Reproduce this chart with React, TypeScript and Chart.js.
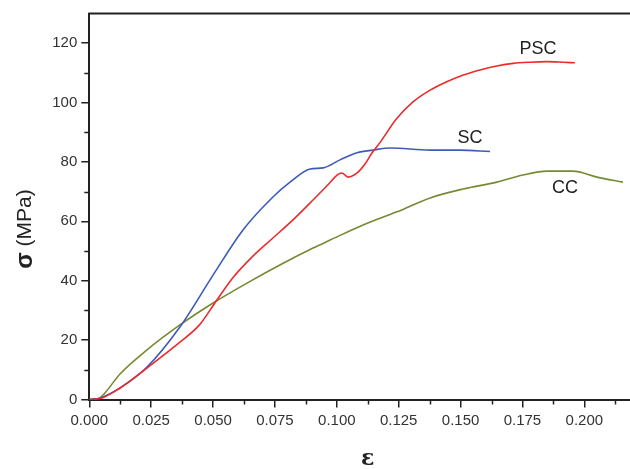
import React, { useEffect, useRef } from "react";
import { Chart, registerables } from "chart.js";

Chart.register(...registerables);

// SC (blue)
const scStrain = [0, 0.0043, 0.0124, 0.0233, 0.0366, 0.050, 0.0621, 0.0742, 0.0811, 0.0892, 0.0945, 0.1013, 0.1082, 0.1146, 0.1215, 0.1377, 0.1498, 0.1619];
const scStress = [0, 0.5, 3.9, 10.9, 24.4, 41.9, 57.1, 68.2, 73.2, 77.6, 78.0, 80.7, 83.1, 84.0, 84.7, 84.0, 84.0, 83.5];

// PSC (red)
const pscStrain = [0, 0.0043, 0.0124, 0.0233, 0.0366, 0.0447, 0.0508, 0.058, 0.0661, 0.0742, 0.0823, 0.0904, 0.0972, 0.1001, 0.1021, 0.1045, 0.1082, 0.1114, 0.1142, 0.1175, 0.1242, 0.1309, 0.1377, 0.1444, 0.1511, 0.1579, 0.1646, 0.1713, 0.1781, 0.1848, 0.1915, 0.1962];
const pscStress = [0, 0.3, 3.8, 10.6, 19.3, 25.3, 32.6, 41.0, 48.3, 54.4, 60.5, 67.2, 73.0, 75.6, 76.3, 74.9, 76.3, 79.3, 83.0, 86.6, 94.6, 100.3, 104.2, 107.0, 109.3, 111.0, 112.3, 113.2, 113.6, 113.8, 113.6, 113.4];

// CC (green)
const ccStrain = [0, 0.0035, 0.006, 0.0124, 0.0233, 0.0366, 0.050, 0.0637, 0.077, 0.0904, 0.0973, 0.1106, 0.1243, 0.1377, 0.151, 0.1647, 0.1752, 0.1849, 0.1954, 0.2051, 0.2156];
const ccStress = [0, 0.2, 1.9, 8.6, 16.7, 25.1, 32.5, 39.2, 45.3, 51.0, 53.7, 58.8, 63.2, 67.9, 70.9, 73.2, 75.6, 76.9, 76.9, 74.9, 73.2];

// curve labels (placed in data space)
const curveNames = ["PSC", "SC", "CC"];
const labelStrain = [0.1813, 0.1538, 0.1922];
const labelStress = [118.1, 88.1, 71.2];

const xTitle = "ε";
const yTitleSymbol = "σ";
const yTitleUnit = " (MPa)";

const SANS = "Arial, 'Liberation Sans', sans-serif";

function toPoints(xs: number[], ys: number[]) {
  return xs.map((x, i) => ({ x, y: ys[i] }));
}

const framePlugin = {
  id: "frameAndText",
  afterDraw(chart: any) {
    const { ctx, chartArea: a, scales } = chart;
    const xs = scales.x;
    const ys = scales.y;
    ctx.save();
    ctx.strokeStyle = "#222";
    ctx.lineWidth = 2;
    ctx.beginPath();
    ctx.moveTo(a.left - 1, a.top);
    ctx.lineTo(a.right, a.top);
    ctx.lineTo(a.right, a.bottom);
    ctx.stroke();

    // minor ticks
    ctx.lineWidth = 1.5;
    ctx.beginPath();
    for (let v = 0.0125; v < xs.max; v += 0.025) {
      const px = Math.round(xs.getPixelForValue(v)) + 0.5;
      ctx.moveTo(px, a.bottom);
      ctx.lineTo(px, a.bottom + 5);
    }
    for (let v = 10; v < ys.max; v += 20) {
      const py = Math.round(ys.getPixelForValue(v)) + 0.5;
      ctx.moveTo(a.left, py);
      ctx.lineTo(a.left - 5, py);
    }
    ctx.stroke();

    // curve labels
    ctx.fillStyle = "#222";
    ctx.font = `18px ${SANS}`;
    ctx.textAlign = "center";
    ctx.textBaseline = "middle";
    curveNames.forEach((n, i) => {
      ctx.fillText(n, xs.getPixelForValue(labelStrain[i]), ys.getPixelForValue(labelStress[i]));
    });

    // x title
    ctx.font = `bold 22px 'DejaVu Serif', 'Liberation Serif', serif`;
    ctx.fillText(xTitle, (a.left + a.right) / 2, 459);

    // y title
    ctx.translate(25, 229);
    ctx.rotate(-Math.PI / 2);
    const symFont = `bold 24px ${SANS}`;
    const unitFont = `21px ${SANS}`;
    ctx.font = symFont;
    const w1 = ctx.measureText(yTitleSymbol).width;
    ctx.font = unitFont;
    const w2 = ctx.measureText(yTitleUnit).width;
    const start = -(w1 + w2) / 2;
    ctx.textAlign = "left";
    ctx.font = symFont;
    ctx.fillText(yTitleSymbol, start, 0);
    ctx.font = unitFont;
    ctx.fillText(yTitleUnit, start + w1, 0);
    ctx.restore();
  },
};

export default function App() {
  const ref = useRef<HTMLCanvasElement | null>(null);

  useEffect(() => {
    if (!ref.current) return;
    const tickFont = { family: SANS, size: 15 };
    const line = (label: string, data: any, color: string) => ({
      label,
      data,
      borderColor: color,
      borderWidth: 1.6,
      pointRadius: 0,
      cubicInterpolationMode: "monotone" as const,
    });
    const chart = new Chart(ref.current, {
      type: "line",
      data: {
        datasets: [
          line("PSC", toPoints(pscStrain, pscStress), "#ee2a2a"),
          line("SC", toPoints(scStrain, scStress), "#3d5cba"),
          line("CC", toPoints(ccStrain, ccStress), "#758a33"),
        ],
      },
      options: {
        animation: false,
        responsive: false,
        events: [],
        layout: { padding: { top: 13.5, right: 0.8, left: 0, bottom: 0 } },
        plugins: { legend: { display: false }, tooltip: { enabled: false } },
        scales: {
          x: {
            type: "linear",
            min: 0,
            max: 0.225,
            ticks: {
              stepSize: 0.025,
              autoSkip: false,
              maxRotation: 0,
              padding: 4,
              color: "#333",
              font: tickFont,
              callback: (v: any) => (Number(v) > 0.2001 ? "" : Number(v).toFixed(3)),
            },
            grid: { drawOnChartArea: false, tickLength: 8, color: "#222", lineWidth: 1.5 },
            border: { color: "#222", width: 2 },
            afterFit: (s: any) => {
              s.height = 69.5;
              s.paddingLeft = 0;
              s.paddingRight = 0;
            },
          },
          y: {
            type: "linear",
            min: 0,
            max: 130,
            ticks: {
              stepSize: 20,
              includeBounds: false,
              padding: 4,
              color: "#333",
              font: tickFont,
            },
            grid: { drawOnChartArea: false, tickLength: 8, color: "#222", lineWidth: 1.5 },
            border: { color: "#222", width: 2 },
            afterFit: (s: any) => {
              s.width = 89.3;
            },
          },
        },
      },
      plugins: [framePlugin],
    });
    return () => chart.destroy();
  }, []);

  return (
    <div style={{ position: "fixed", left: 0, top: 0, width: 630, height: 469, overflow: "hidden", background: "#fff" }}>
      <canvas ref={ref} width={647} height={469} style={{ display: "block" }} />
    </div>
  );
}
